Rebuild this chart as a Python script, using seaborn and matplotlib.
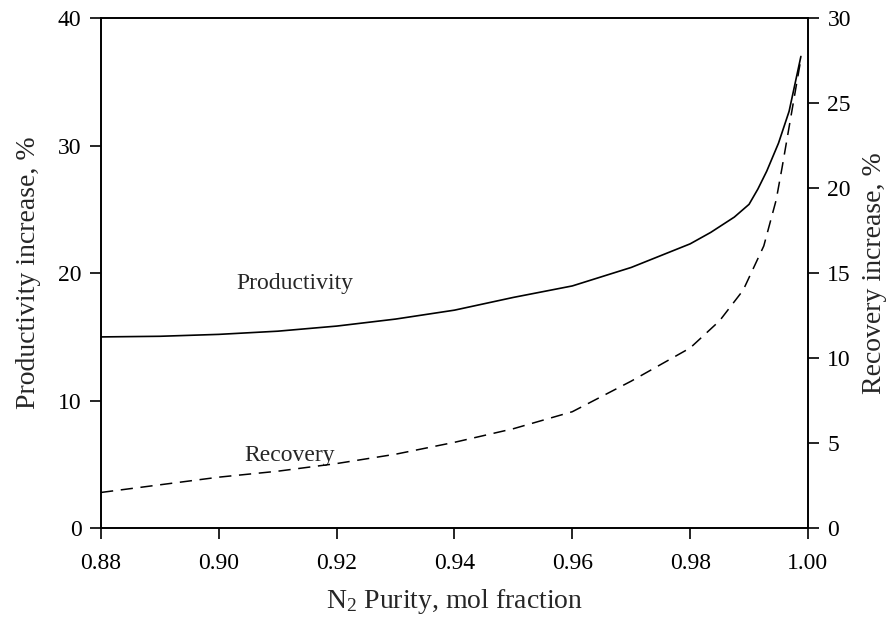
import matplotlib
matplotlib.use("Agg")
import matplotlib.pyplot as plt
import seaborn as sns
import pandas as pd

sns.set_theme(style="ticks")
plt.rcParams["font.family"] = ["Liberation Serif", "DejaVu Serif"]
plt.rcParams["mathtext.fontset"] = "custom"
plt.rcParams["mathtext.rm"] = "Liberation Serif"
plt.rcParams["mathtext.it"] = "Liberation Serif:italic"

# N2 purity (mol fraction) and the corresponding increases
purity_prod = [0.880, 0.890, 0.900, 0.910, 0.920, 0.930, 0.940, 0.950, 0.960,
               0.970, 0.980, 0.9835, 0.9875, 0.990, 0.9915, 0.993, 0.995,
               0.9968, 0.9988]
productivity = [15.0, 15.05, 15.2, 15.45, 15.85, 16.4, 17.1, 18.1, 19.0,
                20.45, 22.3, 23.2, 24.4, 25.4, 26.6, 28.0, 30.2,
                32.7, 37.0]

purity_rec = [0.880, 0.890, 0.900, 0.910, 0.920, 0.930, 0.940, 0.950, 0.960,
              0.970, 0.980, 0.985, 0.989, 0.9925, 0.9946, 0.9956, 0.9973, 0.9988]
recovery = [2.1, 2.55, 3.0, 3.35, 3.8, 4.35, 5.05, 5.85, 6.85,
            8.65, 10.6, 12.2, 14.0, 16.6, 19.3, 21.2, 24.6, 27.6]

x_ticks = [0.88, 0.90, 0.92, 0.94, 0.96, 0.98, 1.00]
left_ticks = [0, 10, 20, 30, 40]
right_ticks = [0, 5, 10, 15, 20, 25, 30]

prod_df = pd.DataFrame({"purity": purity_prod, "value": productivity})
rec_df = pd.DataFrame({"purity": purity_rec, "value": recovery})

fig = plt.figure(figsize=(8.91, 6.28), dpi=100)
ax = fig.add_axes([0.1134, 0.159, 0.7934, 0.812])
ax2 = ax.twinx()

sns.lineplot(data=prod_df, x="purity", y="value", ax=ax, color="black",
             linewidth=1.2, sort=False)
sns.lineplot(data=rec_df, x="purity", y="value", ax=ax2, color="black",
             linewidth=1.1, sort=False, dashes=False)
ax2.lines[0].set_dashes((8, 5))

ax.set_xlim(0.88, 1.00)
ax.set_ylim(0, 40)
ax2.set_ylim(0, 30)
ax.set_xticks(x_ticks)
ax.set_xticklabels([f"{t:.2f}" for t in x_ticks])
ax.set_yticks(left_ticks)
ax2.set_yticks(right_ticks)

for a in (ax, ax2):
    for s in a.spines.values():
        s.set_linewidth(1.2)
        s.set_color("black")
    a.tick_params(direction="out", length=8, width=1.2, labelsize=17,
                  colors="black", pad=6)
ax.tick_params(axis="x", pad=10)

ax.set_xlabel("N$_2$ Purity, mol fraction", fontsize=20, labelpad=9)
ax.set_ylabel("Productivity increase, %", fontsize=20, labelpad=12)
ax2.set_ylabel("Recovery increase, %", fontsize=20, labelpad=8)

ax.text(0.9129, 19.2, "Productivity", fontsize=17, ha="center", va="center")
ax.text(0.9120, 5.7, "Recovery", fontsize=17, ha="center", va="center")

fig.savefig("out.png", dpi=100)
